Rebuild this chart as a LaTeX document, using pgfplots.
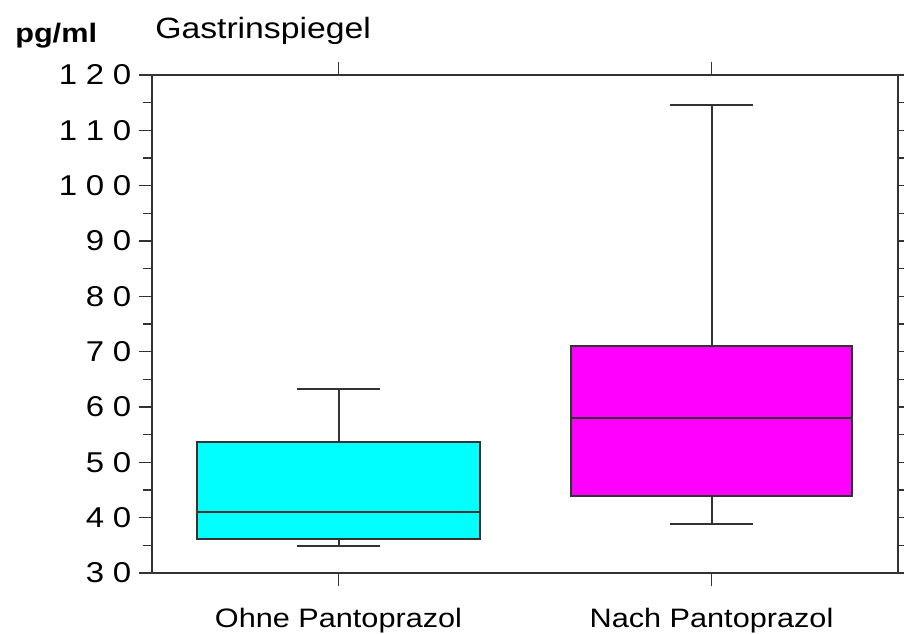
\documentclass[border=0pt]{standalone}
\usepackage{fontspec}
\setmainfont{Liberation Sans}[FakeStretch=1.15]
\usepackage{pgfplots}
\pgfplotsset{compat=1.18}
\definecolor{ln}{HTML}{333333}
\definecolor{cy}{HTML}{00FFFF}
\definecolor{mg}{HTML}{FF00FF}
\newcommand{\dsp}{\hspace{6.5pt}}
% box plot statistics: position, lower whisker, Q1, median, Q3, upper whisker
% Ohne Pantoprazol: 1, 34.9, 36.1, 41.0, 53.7, 63.3
% Nach Pantoprazol: 2, 38.9, 43.9, 58.0, 71.0, 114.6
\begin{document}
\begin{tikzpicture}
\begin{axis}[
  at={(114pt,45pt)}, anchor=south west,
  scale only axis, width=559.5pt, height=373.5pt,
  xmin=0.5, xmax=2.5, ymin=30, ymax=120,
  xtick={1,2}, xticklabels={Ohne Pantoprazol, Nach Pantoprazol},
  ytick={30,40,...,120},
  yticklabels={{3\dsp0},{4\dsp0},{5\dsp0},{6\dsp0},{7\dsp0},{8\dsp0},{9\dsp0},{1\dsp0\dsp0},{1\dsp1\dsp0},{1\dsp2\dsp0}},
  minor ytick={35,45,...,115},
  tick align=outside,
  major tick length=10pt, minor tick length=7pt,
  tick style={ln, line width=1.1pt},
  axis line style={ln, line width=1.4pt},
  xtick pos=both, ytick pos=both,
  xticklabel pos=bottom, yticklabel pos=left,
  yticklabel style={font=\fontsize{21.5}{24}\selectfont, xshift=-2pt},
  xticklabel style={font=\fontsize{20}{24}\selectfont, yshift=-13pt},
  axis on top,
]
% boxes
\addplot[draw=ln, fill=cy, line width=1.5pt] coordinates {(0.62,36.1) (1.38,36.1) (1.38,53.7) (0.62,53.7)} -- cycle;
\addplot[draw=ln, fill=mg, line width=1.5pt] coordinates {(1.622,43.9) (2.378,43.9) (2.378,71.0) (1.622,71.0)} -- cycle;
% medians
\addplot[draw=ln, line width=1.5pt] coordinates {(0.62,41.0) (1.38,41.0)};
\addplot[draw=ln, line width=1.5pt] coordinates {(1.622,58.0) (2.378,58.0)};
% whiskers
\addplot[draw=ln, line width=1.5pt] coordinates {(1,53.7) (1,63.3)};
\addplot[draw=ln, line width=1.5pt] coordinates {(0.89,63.3) (1.11,63.3)};
\addplot[draw=ln, line width=1.5pt] coordinates {(1,36.1) (1,34.9)};
\addplot[draw=ln, line width=1.5pt] coordinates {(0.89,34.9) (1.11,34.9)};
\addplot[draw=ln, line width=1.5pt] coordinates {(2,71.0) (2,114.6)};
\addplot[draw=ln, line width=1.5pt] coordinates {(1.89,114.6) (2.11,114.6)};
\addplot[draw=ln, line width=1.5pt] coordinates {(2,43.9) (2,38.9)};
\addplot[draw=ln, line width=1.5pt] coordinates {(1.89,38.9) (2.11,38.9)};
\end{axis}
\node[anchor=base west, inner sep=0pt, font=\bfseries\fontsize{20}{24}\selectfont] at (11.25pt,442.5pt) {pg/ml};
\node[anchor=base west, inner sep=0pt, font=\fontsize{22}{24}\selectfont] at (116.25pt,446pt) {Gastrinspiegel};
\pgfresetboundingbox
\path (0,0) rectangle (678pt,474.75pt);
\end{tikzpicture}
\end{document}
